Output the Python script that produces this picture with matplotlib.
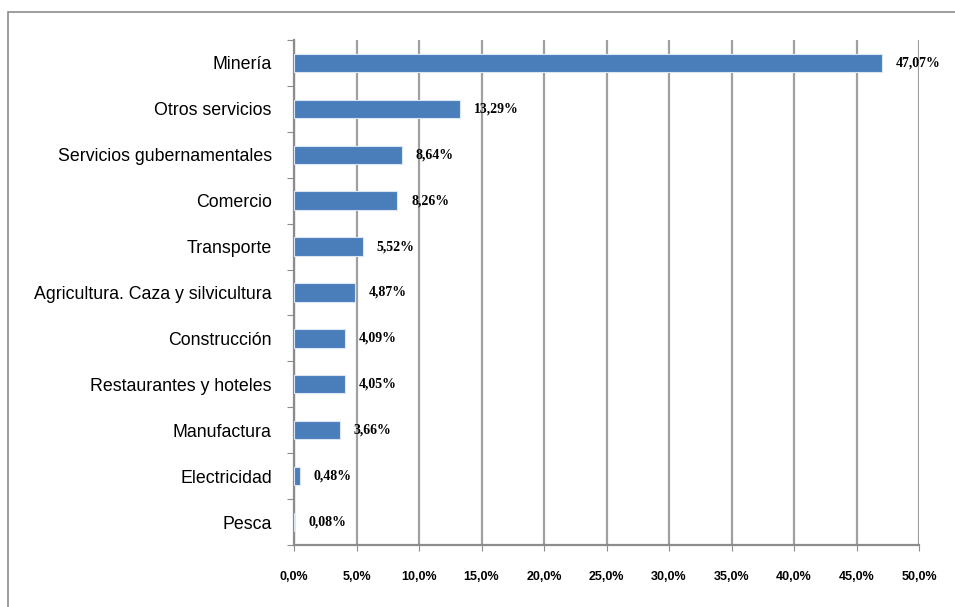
import matplotlib

matplotlib.use("Agg")
import matplotlib.pyplot as plt  # noqa: E402
from matplotlib.patches import Rectangle  # noqa: E402

categories = [
    "Minería", "Otros servicios", "Servicios gubernamentales", "Comercio",
    "Transporte", "Agricultura. Caza y silvicultura", "Construcción",
    "Restaurantes y hoteles", "Manufactura", "Electricidad", "Pesca",
]
values = [47.07, 13.29, 8.64, 8.26, 5.52, 4.87, 4.09, 4.05, 3.66, 0.48, 0.08]
xticks = [0, 5, 10, 15, 20, 25, 30, 35, 40, 45, 50]

plt.rcParams["font.family"] = ["Liberation Sans", "DejaVu Sans"]

fig = plt.figure(figsize=(9.55, 6.07), dpi=100)
ax = fig.add_axes([294 / 955, 1 - 545 / 607, 625 / 955, 505 / 607])

# outer chart border
fig.patches.append(Rectangle((8 / 955, -0.05), 1.0, 1 - 12 / 607 + 0.05,
                             transform=fig.transFigure, fill=False,
                             edgecolor="#8c8c8c", linewidth=1.2))

pos = list(range(len(categories)))
ax.barh(pos, values, height=0.4, color="#4a7ebb", edgecolor="#dbe5f3",
        linewidth=0.8, zorder=3)

for p, v in zip(pos, values):
    ax.text(v + 1.1, p, f"{v:.2f}%".replace(".", ","), va="center", ha="left",
            fontsize=10, fontweight="bold", family="Liberation Serif",
            zorder=4)

ax.set_xlim(0, 50)
ax.set_ylim(len(categories) - 0.5, -0.5)
ax.set_xticks(xticks)
ax.set_xticklabels([f"{t:.1f}%".replace(".", ",") for t in xticks],
                   fontsize=9, fontweight="bold")
ax.tick_params(axis="x", length=4, color="#8c8c8c", pad=15)

ax.set_yticks([p - 0.5 for p in pos] + [len(pos) - 0.5])
ax.set_yticklabels([])
ax.set_yticks(pos, minor=True)
ax.set_yticklabels(categories, minor=True, fontsize=12.8)
ax.tick_params(axis="y", which="major", length=5, color="#8c8c8c")
ax.tick_params(axis="y", which="minor", length=0, pad=16)

ax.grid(axis="x", color="#a0a0a0", linewidth=1.6, zorder=0)
for side in ["top", "right"]:
    ax.spines[side].set_visible(False)
for side in ["left", "bottom"]:
    ax.spines[side].set_color("#8c8c8c")
    ax.spines[side].set_linewidth(1.6)

fig.savefig("out.png", dpi=100)
